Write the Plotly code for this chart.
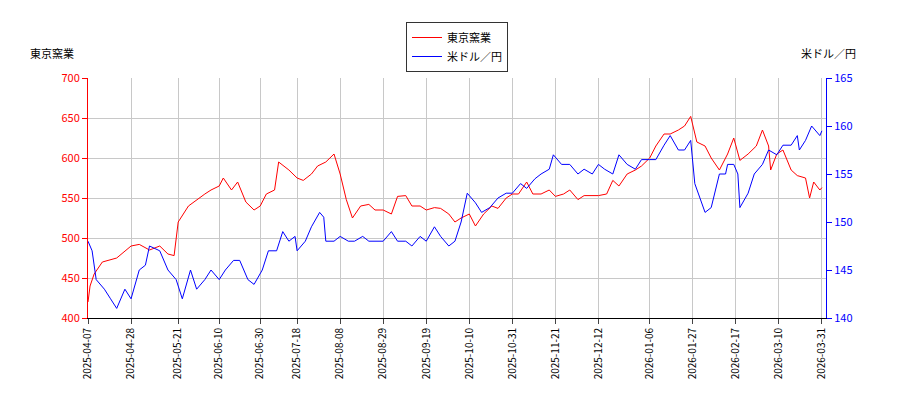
import plotly.graph_objects as go

red_dates = ["2025-04-07","2025-04-08","2025-04-10","2025-04-14","2025-04-21","2025-04-28","2025-05-02","2025-05-07","2025-05-12","2025-05-16","2025-05-19","2025-05-21","2025-05-26","2025-05-30","2025-06-03","2025-06-06","2025-06-10","2025-06-12","2025-06-16","2025-06-19","2025-06-23","2025-06-27","2025-06-30","2025-07-03","2025-07-07","2025-07-09","2025-07-14","2025-07-18","2025-07-21","2025-07-25","2025-07-28","2025-08-01","2025-08-05","2025-08-08","2025-08-11","2025-08-14","2025-08-18","2025-08-22","2025-08-25","2025-08-29","2025-09-02","2025-09-05","2025-09-09","2025-09-12","2025-09-16","2025-09-19","2025-09-23","2025-09-26","2025-09-30","2025-10-03","2025-10-06","2025-10-10","2025-10-13","2025-10-17","2025-10-21","2025-10-24","2025-10-28","2025-10-31","2025-11-03","2025-11-07","2025-11-10","2025-11-14","2025-11-18","2025-11-21","2025-11-25","2025-11-28","2025-12-02","2025-12-05","2025-12-08","2025-12-12","2025-12-16","2025-12-19","2025-12-22","2025-12-26","2025-12-30","2026-01-02","2026-01-06","2026-01-09","2026-01-13","2026-01-16","2026-01-20","2026-01-23","2026-01-26","2026-01-29","2026-02-02","2026-02-05","2026-02-09","2026-02-13","2026-02-16","2026-02-19","2026-02-23","2026-02-27","2026-03-02","2026-03-05","2026-03-06","2026-03-09","2026-03-12","2026-03-16","2026-03-19","2026-03-23","2026-03-25","2026-03-27","2026-03-30","2026-03-31"]
red_vals = [420,440,455,470,475,490,492,485,490,480,478,520,540,548,555,560,565,575,560,570,545,535,540,555,560,595,585,575,572,580,590,595,605,580,548,525,540,542,535,535,530,552,553,540,540,535,538,537,530,520,525,530,515,530,540,537,550,555,555,570,555,555,560,552,555,560,548,553,553,553,555,572,565,580,585,590,600,615,630,630,635,640,652,620,615,600,585,605,625,597,605,615,635,615,585,605,610,585,578,575,550,570,560,563]

blue_dates = ["2025-04-07","2025-04-09","2025-04-11","2025-04-15","2025-04-18","2025-04-21","2025-04-25","2025-04-28","2025-05-02","2025-05-05","2025-05-07","2025-05-12","2025-05-16","2025-05-20","2025-05-23","2025-05-27","2025-05-30","2025-06-03","2025-06-06","2025-06-10","2025-06-13","2025-06-17","2025-06-20","2025-06-24","2025-06-27","2025-07-01","2025-07-04","2025-07-08","2025-07-11","2025-07-14","2025-07-17","2025-07-18","2025-07-22","2025-07-25","2025-07-29","2025-07-31","2025-08-01","2025-08-05","2025-08-08","2025-08-12","2025-08-15","2025-08-19","2025-08-22","2025-08-26","2025-08-29","2025-09-02","2025-09-05","2025-09-09","2025-09-12","2025-09-16","2025-09-19","2025-09-23","2025-09-26","2025-09-30","2025-10-03","2025-10-06","2025-10-09","2025-10-13","2025-10-16","2025-10-20","2025-10-24","2025-10-28","2025-10-31","2025-11-04","2025-11-07","2025-11-11","2025-11-14","2025-11-18","2025-11-20","2025-11-24","2025-11-28","2025-12-02","2025-12-05","2025-12-09","2025-12-12","2025-12-15","2025-12-19","2025-12-22","2025-12-26","2025-12-30","2026-01-02","2026-01-06","2026-01-09","2026-01-13","2026-01-16","2026-01-20","2026-01-23","2026-01-26","2026-01-28","2026-02-02","2026-02-05","2026-02-09","2026-02-12","2026-02-13","2026-02-16","2026-02-18","2026-02-19","2026-02-23","2026-02-26","2026-03-02","2026-03-05","2026-03-09","2026-03-12","2026-03-16","2026-03-19","2026-03-20","2026-03-23","2026-03-26","2026-03-30","2026-03-31"]
blue_vals = [148,147,144,143,142,141,143,142,145,145.5,147.5,147,145,144,142,145,143,144,145,144,145,146,146,144,143.5,145,147,147,149,148,148.5,147,148,149.5,151,150.5,148,148,148.5,148,148,148.5,148,148,148,149,148,148,147.5,148.5,148,149.5,148.5,147.5,148,150,153,152,151,151.5,152.5,153,153,154,153.5,154.5,155,155.5,157,156,156,155,155.5,155,156,155.5,155,157,156,155.5,156.5,156.5,156.5,158,159,157.5,157.5,158.5,154,151,151.5,155,155,156,156,155,151.5,153,155,156,157.5,157,158,158,159,157.5,158.5,160,159,159.5]

tickvals = ["2025-04-07","2025-04-28","2025-05-21","2025-06-10","2025-06-30","2025-07-18","2025-08-08","2025-08-29","2025-09-19","2025-10-10","2025-10-31","2025-11-21","2025-12-12","2026-01-06","2026-01-27","2026-02-17","2026-03-10","2026-03-31"]

fig = go.Figure()
fig.add_trace(go.Scatter(x=red_dates, y=red_vals, name="東京窯業", mode="lines", line=dict(color="red", width=1)))
fig.add_trace(go.Scatter(x=blue_dates, y=blue_vals, name="米ドル／円", mode="lines", line=dict(color="blue", width=1), yaxis="y2"))

font = "Noto Sans CJK JP"
pw, ph = 900 - 80 - 82, 400 - 70 - 90
fig.update_layout(
    width=900, height=400, margin=dict(l=80, r=82, t=70, b=90, autoexpand=False),
    paper_bgcolor="white", plot_bgcolor="white",
    font=dict(family=font, size=11, color="black"),
    showlegend=True,
    legend=dict(x=0.5, y=(400 - 90 - 14) / ph, xanchor="center", yanchor="top",
                bordercolor="#333", borderwidth=1, bgcolor="white", font=dict(size=11)),
    xaxis=dict(type="date", range=["2025-04-07", "2026-04-02"], tickvals=tickvals, ticktext=tickvals,
               tickangle=-90, tickfont=dict(size=10), showgrid=True, gridcolor="#c8c8c8",
               showline=True, linecolor="black", ticks="outside", mirror=False),
    yaxis=dict(range=[400, 700], dtick=50, showgrid=True, gridcolor="#c8c8c8",
               showline=True, linecolor="red", tickcolor="red", ticks="outside", tickfont=dict(color="red")),
    yaxis2=dict(range=[140, 165], dtick=5, overlaying="y", side="right", showgrid=False,
                showline=True, linecolor="blue", tickcolor="blue", ticks="outside", tickfont=dict(color="blue")),
    annotations=[
        dict(text="東京窯業", x=(20 - 80) / pw, y=(400 - 90 - 45) / ph, xref="paper", yref="paper",
             showarrow=False, xanchor="left", yanchor="middle"),
        dict(text="米ドル／円", x=(850 - 80) / pw, y=(400 - 90 - 45) / ph, xref="paper", yref="paper",
             showarrow=False, xanchor="right", yanchor="middle"),
    ],
)
fig.write_html("out.html")
